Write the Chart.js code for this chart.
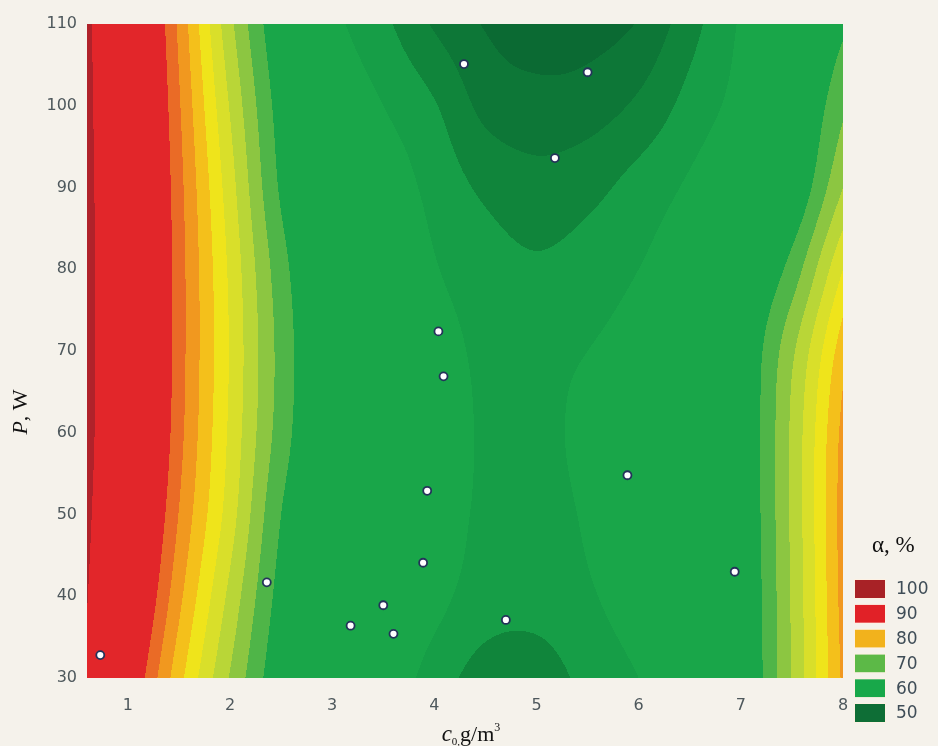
<!DOCTYPE html>
<html>
<head>
<meta charset="utf-8">
<script src="https://cdn.jsdelivr.net/npm/chart.js@4.4.1/dist/chart.umd.min.js"></script>
<style>
  body { margin: 0; background: #f5f2eb; }
  #wrap { width: 938px; height: 746px; position: relative; }
</style>
</head>
<body>
<div id="wrap"><canvas id="myChart"></canvas></div>
<script>
// surface nodes (c0, g/m3 and P, W)
var cNodes = [0.6, 1, 1.5, 2, 2.5, 3, 3.5, 4, 4.5, 5, 5.5, 6, 6.5, 7, 7.5, 8];
var pNodes = [30, 40, 50, 60, 70, 80, 90, 100, 110];

// alpha, % along c0 for each power level
var alphaP30  = [99.0, 88.4, 78.4, 69.8, 63.0, 60.3, 59.3, 56.4, 53.8, 53.6, 55.8, 57.5, 59.5, 62.0, 70.2, 80.5];
var alphaP40  = [100.2, 90.7, 80.7, 71.8, 64.0, 60.8, 60.4, 58.3, 56.3, 56.0, 57.2, 58.8, 60.5, 62.3, 70.3, 81.0];
var alphaP50  = [101.0, 92.3, 82.4, 73.7, 65.0, 61.3, 61.0, 59.0, 57.0, 56.5, 57.8, 59.2, 60.8, 62.5, 70.5, 81.2];
var alphaP60  = [101.5, 93.3, 83.4, 74.5, 66.3, 61.6, 61.2, 59.0, 57.2, 56.8, 58.2, 59.3, 60.7, 62.5, 70.5, 80.8];
var alphaP70  = [101.6, 93.6, 83.7, 74.8, 66.6, 61.6, 61.0, 58.7, 57.0, 56.8, 57.5, 58.6, 60.3, 62.5, 69.5, 79.0];
var alphaP80  = [101.6, 93.6, 83.7, 74.5, 66.0, 61.4, 60.3, 57.7, 56.2, 55.4, 56.2, 57.5, 59.2, 61.5, 66.0, 75.0];
var alphaP90  = [101.4, 93.4, 83.4, 73.6, 64.6, 60.8, 59.2, 56.7, 54.5, 53.4, 54.2, 56.0, 57.9, 60.2, 62.5, 70.0];
var alphaP100 = [101.2, 93.1, 82.8, 72.3, 63.8, 59.8, 57.5, 55.2, 51.8, 51.0, 51.3, 53.0, 55.9, 58.5, 61.5, 67.0];
var alphaP110 = [101.0, 92.6, 82.0, 70.7, 62.6, 58.3, 55.6, 52.2, 49.8, 48.4, 48.8, 50.2, 54.0, 57.8, 61.2, 64.5];
var alphaRows = [alphaP30, alphaP40, alphaP50, alphaP60, alphaP70, alphaP80, alphaP90, alphaP100, alphaP110];

// contour levels and the colour of each band between them
var levels = [50, 52.5, 55, 57.5, 65, 67.5, 70, 72.5, 75, 77.5, 80, 82.5, 85, 100];
var bandColors = ['#0b6a33', '#0d7737', '#10853b', '#169e47', '#19a649', '#4fb548', '#8cc641',
                  '#b9d637', '#d9df2a', '#efe41b', '#f4c01b', '#f1981f', '#ea6b26', '#e2262a', '#b0222a'];

// experiment points
var pointsC = [0.73, 2.36, 3.18, 3.50, 3.60, 3.89, 3.93, 4.04, 4.09, 4.70, 4.29, 5.50, 5.18, 5.89, 6.94];
var pointsP = [32.8, 41.7, 36.4, 38.9, 35.4, 44.1, 52.9, 72.4, 66.9, 37.1, 105.1, 104.1, 93.6, 54.8, 43.0];

var xTicks = [1, 2, 3, 4, 5, 6, 7, 8];
var yTicks = [30, 40, 50, 60, 70, 80, 90, 100, 110];

// legend
var legendValues = [100, 90, 80, 70, 60, 50];
var legendColors = ['#a82226', '#e12127', '#f2b21c', '#5cb947', '#18a84a', '#0e6e36'];

var tickColor = '#4e585c';

function hexRgb(h) {
  return [parseInt(h.substr(1, 2), 16), parseInt(h.substr(3, 2), 16), parseInt(h.substr(5, 2), 16)];
}
var bandRgb = bandColors.map(hexRgb);

// catmull-rom helpers
function cr(p0, p1, p2, p3, t) {
  return 0.5 * (2 * p1 + (-p0 + p2) * t + (2 * p0 - 5 * p1 + 4 * p2 - p3) * t * t + (-p0 + 3 * p1 - 3 * p2 + p3) * t * t * t);
}
function at(arr, i) {
  if (i < 0) return 2 * arr[0] - arr[1];
  if (i >= arr.length) return 2 * arr[arr.length - 1] - arr[arr.length - 2];
  return arr[i];
}
function findCell(nodes, v) {
  var i = 0;
  while (i < nodes.length - 2 && v > nodes[i + 1]) i++;
  return [i, (v - nodes[i]) / (nodes[i + 1] - nodes[i])];
}

// filled contour, drawn through the chart scales
var contourPlugin = {
  id: 'contour',
  beforeDatasetsDraw: function(chart) {
    var ctx = chart.ctx, a = chart.chartArea, xs = chart.scales.x, ys = chart.scales.y;
    var w = Math.round(a.right - a.left), h = Math.round(a.bottom - a.top);
    var img = ctx.createImageData(w, h);

    // values at every P node for each pixel column
    var cols = [];
    for (var px = 0; px < w; px++) {
      var c = xs.getValueForPixel(a.left + px + 0.5);
      var cell = findCell(cNodes, c);
      var col = [];
      for (var j = 0; j < alphaRows.length; j++) {
        var r = alphaRows[j];
        col.push(cr(at(r, cell[0] - 1), at(r, cell[0]), at(r, cell[0] + 1), at(r, cell[0] + 2), cell[1]));
      }
      cols.push(col);
    }

    for (var py = 0; py < h; py++) {
      var p = ys.getValueForPixel(a.top + py + 0.5);
      var pc = findCell(pNodes, p);
      for (var px2 = 0; px2 < w; px2++) {
        var cv = cols[px2];
        var v = cr(at(cv, pc[0] - 1), at(cv, pc[0]), at(cv, pc[0] + 1), at(cv, pc[0] + 2), pc[1]);
        var b = 0;
        while (b < levels.length && v >= levels[b]) b++;
        var rgb = bandRgb[b], k = (py * w + px2) * 4;
        img.data[k] = rgb[0]; img.data[k + 1] = rgb[1]; img.data[k + 2] = rgb[2]; img.data[k + 3] = 255;
      }
    }
    ctx.putImageData(img, Math.round(a.left), Math.round(a.top));
  }
};

function drawRuns(ctx, runs, x, y) {
  runs.forEach(function(r) {
    ctx.font = r.f;
    ctx.fillText(r.t, x, y + (r.dy || 0));
    x += ctx.measureText(r.t).width;
  });
}
function runsWidth(ctx, runs) {
  var s = 0;
  runs.forEach(function(r) { ctx.font = r.f; s += ctx.measureText(r.t).width; });
  return s;
}

// axis titles + colour legend
var extrasPlugin = {
  id: 'extras',
  afterDraw: function(chart) {
    var ctx = chart.ctx;
    ctx.save();
    ctx.fillStyle = '#111';
    ctx.textBaseline = 'alphabetic';
    ctx.textAlign = 'left';

    var serif = '"Liberation Serif", "Times New Roman", serif';
    var xRuns = [
      { t: 'c', f: 'italic 23px ' + serif },
      { t: '0,', f: '11px ' + serif, dy: 4 },
      { t: 'g/m', f: '22px ' + serif },
      { t: '3', f: '12px ' + serif, dy: -10 }
    ];
    drawRuns(ctx, xRuns, 471 - runsWidth(ctx, xRuns) / 2, 741);

    var yRuns = [
      { t: 'P', f: 'italic 22px ' + serif },
      { t: ', W', f: '22px ' + serif }
    ];
    ctx.save();
    ctx.translate(27, 412);
    ctx.rotate(-Math.PI / 2);
    drawRuns(ctx, yRuns, -runsWidth(ctx, yRuns) / 2, 0);
    ctx.restore();

    // legend
    ctx.font = '23px ' + serif;
    ctx.fillText('\u03b1, %', 872, 552);
    ctx.font = '17px "DejaVu Sans", sans-serif';
    ctx.textBaseline = 'middle';
    legendValues.forEach(function(v, i) {
      var top = 580 + i * 24.8;
      ctx.fillStyle = legendColors[i];
      ctx.fillRect(855, top, 30, 18);
      ctx.strokeStyle = 'rgba(255,240,225,0.8)';
      ctx.lineWidth = 1;
      ctx.strokeRect(854.5, top - 0.5, 31, 19);
      ctx.fillStyle = '#3f4d57';
      ctx.fillText(String(v), 896, top + 10);
    });
    ctx.restore();
  }
};

var ctx = document.getElementById('myChart').getContext('2d');
var myChart = new Chart(ctx, {
  type: 'scatter',
  data: {
    datasets: [{
      data: pointsC.map(function(c, i) { return { x: c, y: pointsP[i] }; }),
      pointRadius: 4,
      pointBorderWidth: 1.8,
      pointBackgroundColor: '#ffffff',
      pointBorderColor: '#24335a'
    }]
  },
  plugins: [contourPlugin, extrasPlugin],
  options: {
    responsive: true,
    maintainAspectRatio: false,
    animation: false,
    layout: { padding: { left: 0, right: 95, top: 24, bottom: 0 } },
    plugins: {
      legend: { display: false },
      tooltip: { enabled: false }
    },
    scales: {
      x: {
        type: 'linear',
        min: 0.6,
        max: 8,
        grid: { display: false, drawTicks: false },
        border: { display: false },
        afterBuildTicks: function(s) { s.ticks = xTicks.map(function(v) { return { value: v }; }); },
        afterFit: function(s) { s.height = 68; },
        ticks: {
          color: tickColor,
          padding: 18,
          font: { family: '"DejaVu Sans", sans-serif', size: 16 }
        }
      },
      y: {
        type: 'linear',
        min: 30,
        max: 110,
        grid: { display: false, drawTicks: false },
        border: { display: false },
        afterBuildTicks: function(s) { s.ticks = yTicks.map(function(v) { return { value: v }; }); },
        afterFit: function(s) { s.width = 87; },
        ticks: {
          color: tickColor,
          padding: 10,
          font: { family: '"DejaVu Sans", sans-serif', size: 16 }
        }
      }
    }
  }
});
</script>
</body>
</html>
